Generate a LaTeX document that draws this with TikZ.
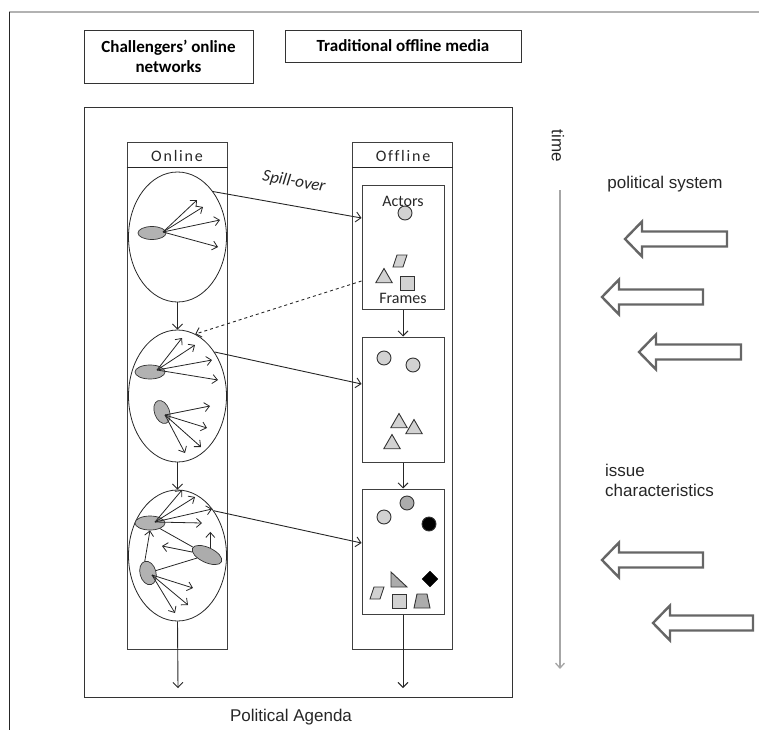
\documentclass[tikz,border=0pt]{standalone}
\usepackage{fontspec}
\setmainfont{Liberation Sans}
\newfontfamily\calibri{Carlito}
\newfontfamily\calspaced[LetterSpace=11,Ligatures=NoCommon]{Carlito}
\usetikzlibrary{shapes.geometric,arrows.meta}

\begin{document}
\begin{tikzpicture}
[
x=1pt, y=-1pt,
>={Straight Barb[length=5pt,width=10pt]},
line/.style={black!85, line width=0.9pt},
hdr/.style={rectangle, draw=black!80, line width=0.9pt, inner sep=0pt, align=center, font=\calibri\bfseries\fontsize{17}{20}\selectfont},
col/.style={rectangle, draw=black!75, line width=1pt, minimum width=100pt, minimum height=506pt, inner sep=0pt},
net/.style={ellipse, draw=black!85, line width=0.8pt, minimum width=98pt, minimum height=130pt, inner sep=0pt},
frm/.style={rectangle, draw=black!75, line width=1pt, minimum width=82pt, minimum height=125pt, inner sep=0pt},
hub/.style={ellipse, draw=black!80, fill=gray!60, line width=0.7pt, minimum width=28pt, minimum height=13pt, inner sep=0pt},
tie/.style={->, black!85, line width=0.8pt, >={Straight Barb[length=5pt,width=9pt]}},
lbl/.style={font=\fontsize{17}{20}\selectfont, text=black!85, inner sep=0pt},
clbl/.style={font=\calspaced\fontsize{16}{18}\selectfont, text=black!85, inner sep=0pt},
fat/.style={draw=black!60, line width=2.4pt, line join=miter},
actor/.style={circle, draw=black!80, line width=0.9pt, minimum size=14pt, inner sep=0pt},
tri/.style={regular polygon, regular polygon sides=3, draw=black!80, fill=gray!35, line width=0.9pt, minimum size=19pt, inner sep=0pt},
sq/.style={rectangle, draw=black!80, line width=0.9pt, minimum size=14pt, inner sep=0pt},
shp/.style={draw=black!80, line width=0.9pt},
]
\useasboundingbox (0,0) rectangle (759,730);

% outer frame
\draw [gray!60, line width=1.5pt] (9,12) -- (759,12);
\draw [black!85, line width=1pt] (9,12) -- (9,730);

% headers
\node [hdr, minimum width=169pt, minimum height=53pt] (chal) at (168.5,56.5) {Challengers’ online\\networks};
\node [hdr, minimum width=236pt, minimum height=32pt] (trad) at (403,46) {Traditional offline media};

% agenda frame
\node [rectangle, draw=black!80, line width=0.9pt, minimum width=428pt, minimum height=590pt, inner sep=0pt] (agenda) at (298,402) {};
\node [lbl] (agtxt) at (291,717) {Political Agenda};

% columns
\node [col] (oncol)  at (177,396) {};
\node [col] (offcol) at (402.5,396) {};
\draw [line, line width=1pt] ([yshift=-25pt]oncol.north west) -- ([yshift=-25pt]oncol.north east);
\draw [line, line width=1pt] ([yshift=-25pt]offcol.north west) -- ([yshift=-25pt]offcol.north east);
\node [clbl] (ontxt)  at (177,156) {Online};
\node [clbl] (offtxt) at (403,156) {Offline};

% online networks
\node [net] (el1) at (177.5,237) {};
\node [net, minimum height=132pt] (el2) at (177.5,396) {};
\node [net, minimum height=131pt] (el3) at (177.5,555.5) {};
\draw [->, line] (el1.south) -- (el2.north);
\draw [->, line] (el2.south) -- (el3.north);
\coordinate (onend) at (178,688);
\draw [->, line] (el3.south) -- (onend);

% network 1
\node [hub] (h1) at (152,233) {};
\coordinate (s1) at (163,232);
\foreach \dx/\dy in {34/-32, 40/-25, 57/-12, 55/15}
  \draw [tie] (s1) -- ++(\dx,\dy);

% network 2
\node [hub, minimum width=30pt, minimum height=14pt] (h2a) at (150,372) {};
\coordinate (s2a) at (157,370);
\foreach \dx/\dy in {25/-32, 38/-25, 55/-10, 61/10}
  \draw [tie] (s2a) -- ++(\dx,\dy);
\node [hub, minimum width=15pt, minimum height=24pt, rotate=20] (h2b) at (162,412) {};
\coordinate (s2b) at (165,415);
\foreach \dx/\dy in {45/-9, 42/13, 36/32, 20/38}
  \draw [tie] (s2b) -- ++(\dx,\dy);

% network 3
\node [hub, minimum width=30pt, minimum height=14pt] (h3a) at (150,523) {};
\node [hub, fill=gray!65, minimum width=32pt, minimum height=15pt, rotate=-25] (h3b) at (207,555) {};
\node [hub, minimum width=16pt, minimum height=24pt, rotate=15] (h3c) at (148,573) {};
\coordinate (s3a) at (155,522);
\foreach \dx/\dy in {27/-32, 40/-25, 57/-13, 47/1}
  \draw [tie] (s3a) -- ++(\dx,\dy);
\draw [line, line width=0.8pt] (h3a) -- (h3b);
\draw [line, line width=0.8pt] (h3c) -- (h3b);
\draw [tie] (h3c.north) -- (h3a.south);
\draw [tie] (h3b) -- ++(-45,-9);
\draw [tie] (h3b.north) -- ++(0,-16);
\coordinate (s3c) at (152,575);
\foreach \dx/\dy in {41/13, 36/30, 23/38}
  \draw [tie] (s3c) -- ++(\dx,\dy);

% offline frames
\node [frm, minimum height=124pt] (fr1) at (403,247) {};
\node [frm] (fr2) at (403,399.5) {};
\node [frm] (fr3) at (403,551.5) {};
\draw [->, line] (fr1.south) -- (fr2.north);
\draw [->, line] (fr2.south) -- (fr3.north);
\coordinate (offend) at (403,688);
\draw [->, line] (fr3.south) -- (offend);

% spill-over
\draw [->, line] (el1.52) -- ([yshift=29pt]fr1.west);
\node [clbl, font=\calibri\itshape\fontsize{17}{20}\selectfont, rotate=-10] (spill) at (294,182) {Spill-over};
\draw [->, line, dashed] ([yshift=-34pt]fr1.west) -- (el2.74);
\draw [->, line] (el2.50) -- ([yshift=15.5pt]fr2.west);
\draw [->, line] (el3.51) -- ([yshift=8.5pt]fr3.west);

% frame 1
\node [clbl, font=\calibri\fontsize{16}{18}\selectfont] (actors) at (403,201) {Actors};
\node [actor, fill=gray!35] (a11) at (405,213) {};
\draw [shp, fill=gray!35, shift={(400,261)}] (-7,6) -- (-3,-6) -- (7,-6) -- (3,6) -- cycle;
\node [tri] (f12) at (384,278) {};
\node [sq, fill=gray!35] (f13) at (407,283) {};
\node [clbl, font=\calibri\fontsize{16}{18}\selectfont] (frames) at (403,298) {Frames};

% frame 2
\node [actor, fill=gray!35] (a21) at (384,358) {};
\node [actor, fill=gray!35] (a22) at (413,365) {};
\node [tri] (f21) at (399,423) {};
\node [tri] (f22) at (414,429) {};
\node [tri] (f23) at (392,444) {};

% frame 3
\node [actor, fill=gray!35] (a31) at (384,517) {};
\node [actor, fill=gray!65] (a32) at (407,503) {};
\node [actor, fill=black]   (a33) at (429,524) {};
\draw [shp, fill=gray!35, shift={(377,593)}] (-7,6) -- (-3,-6) -- (7,-6) -- (3,6) -- cycle;
\draw [shp, fill=gray!65] (391,572) -- (391,587) -- (407,587) -- cycle;
\node [sq, fill=gray!35] (f32) at (399,601) {};
\node [diamond, draw=black, fill=black, minimum size=16pt, inner sep=0pt] (f33) at (430,579) {};
\draw [shp, fill=gray!65, shift={(422,601)}] (-8,7) -- (-5,-7) -- (5,-7) -- (8,7) -- cycle;

% time
\node [lbl, rotate=-90] (time) at (558,146) {time};
\coordinate (t0) at (560,190);
\coordinate (t1) at (560,669);
\draw [->, gray!70, line width=1.3pt, >={Straight Barb[length=5pt,width=9pt]}] (t0) -- (t1);

% context
\node [lbl] (polsys) at (665,184) {political system};
\node [lbl, anchor=north west, align=left] (issue) at (605,464) {issue\\characteristics};
\foreach \tip/\rgt/\y in {625/727/239, 602/703/297, 639/741/352, 602/703/560, 653/753/623}
  \draw [fat] (\tip,\y) -- (\tip+17,\y-17.5) -- (\tip+17,\y-7.5) -- (\rgt,\y-7.5)
    -- (\rgt,\y+7.5) -- (\tip+17,\y+7.5) -- (\tip+17,\y+17.5) -- cycle;

\end{tikzpicture}
\end{document}
